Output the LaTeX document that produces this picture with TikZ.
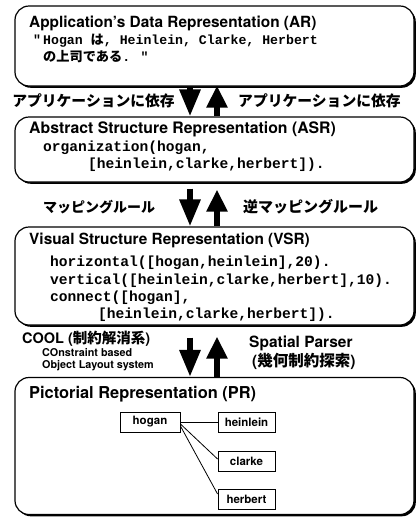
\documentclass[tikz,border=0pt]{standalone}
\usepackage{fontspec}
\setmainfont{TeX Gyre Heros}
\newfontfamily\jp{Noto Sans CJK JP}
\newfontfamily\cmono{Liberation Mono}
\usetikzlibrary{arrows.meta,shadows}
\begin{document}
\begin{tikzpicture}[x=1pt,y=-1pt,
  bigbox/.style={draw, line width=1.2pt, rounded corners=14pt, fill=white,
    minimum width=399pt, inner sep=0pt,
    drop shadow={shadow xshift=1.8pt, shadow yshift=-1.8pt, fill=black, opacity=1}},
  ttl/.style={anchor=west, inner sep=0pt, font=\fontsize{15.4}{17}\selectfont\bfseries},
  code/.style={anchor=west, inner sep=0pt, font=\cmono\bfseries\fontsize{#1}{15}\selectfont},
  jlab/.style={inner sep=0pt, font=\jp\bfseries\fontsize{#1}{15}\selectfont},
  smallbox/.style={draw, line width=0.9pt, fill=white, minimum width=#1, minimum height=20pt,
    inner sep=0pt, font=\fontsize{11.5}{12}\selectfont\bfseries,
    drop shadow={shadow xshift=0.8pt, shadow yshift=-0.8pt, fill=black, opacity=1}},
  fatdown/.style={line width=6pt, -{Triangle[length=27pt,width=20pt]}},
  fatup/.style={line width=6pt, -{Triangle[length=22pt,width=20pt]}},
  link/.style={line width=0.8pt}
]
\useasboundingbox (0,0) rectangle (420,520);

% boxes
\node[bigbox, minimum height=80pt] (ar) at (214.5,46) {};
\node[bigbox, minimum height=65pt] (asr) at (214.5,149.5) {};
\node[bigbox, minimum height=98pt] (vsr) at (214.5,276) {};
\node[bigbox, minimum height=137pt] (pr) at (214.5,446) {};

% AR texts
\node[ttl] (artitle) at (29,23) {Application's Data Representation (AR)};
\node[code=13.2] (ar1) at (43,41) {\llap{"\,}Hogan {\jp\bfseries は}, Heinlein, Clarke, Herbert};
\node[code=13.2] (ar2) at (43,57) {{\jp\bfseries の上司である}. "};

% ASR texts
\node[ttl, font=\fontsize{15.8}{17}\selectfont\bfseries] (asrtitle) at (29,129) {Abstract Structure Representation (ASR)};
\node[code=14.6] (asr1) at (43,147.5) {organization(hogan,};
\node[code=14.6] (asr2) at (88,165) {[heinlein,clarke,herbert]).};

% VSR texts
\node[ttl] (vsrtitle) at (29,240) {Visual Structure Representation (VSR)};
\node[code=14.6] (vsr1) at (50,263) {horizontal([hogan,heinlein],20).};
\node[code=14.6] (vsr2) at (50,280.5) {vertical([heinlein,clarke,herbert],10).};
\node[code=14.6] (vsr3) at (50,297.5) {connect([hogan],};
\node[code=14.6] (vsr4) at (98,314.5) {[heinlein,clarke,herbert]).};

% PR
\node[ttl, font=\fontsize{16.4}{18}\selectfont\bfseries] (prtitle) at (29,394) {Pictorial Representation (PR)};
\node[smallbox=60pt] (hogan) at (150,422) {hogan};
\node[smallbox=57pt] (heinlein) at (246.5,422) {heinlein};
\node[smallbox=57pt] (clarke) at (246.5,461) {clarke};
\node[smallbox=57pt] (herbert) at (246.5,499) {herbert};
\draw[link] (hogan.east) -- (heinlein.west);
\draw[link] ([yshift=-2pt]hogan.east) -- ([yshift=2pt]clarke.west);
\draw[link] ([yshift=-4pt]hogan.east) -- ([yshift=5pt]herbert.west);

% arrows AR <-> ASR
\draw[fatdown] ([xshift=-24.5pt]ar.south) -- ([xshift=-24.5pt]asr.north);
\draw[fatup] ([xshift=2.5pt]asr.north) -- ([xshift=2.5pt,yshift=1pt]ar.south);
\node[jlab=14.8, anchor=east] (l1) at (175,101) {アプリケーションに依存};
\node[jlab=14.8, anchor=west] (r1) at (238,101) {アプリケーションに依存};

% arrows ASR <-> VSR
\draw[fatdown] ([xshift=-24.5pt,yshift=-6pt]asr.south) -- ([xshift=-24.5pt]vsr.north);
\draw[fatup] ([xshift=2.5pt]vsr.north) -- ([xshift=2.5pt,yshift=-7pt]asr.south);
\node[jlab=14, anchor=west] (l2) at (43,207) {マッピングルール};
\node[jlab=15, anchor=west] (r2) at (243,207) {逆マッピングルール};

% arrows VSR <-> PR
\draw[fatdown] ([xshift=-24.5pt,yshift=-12pt]vsr.south) -- ([xshift=-24.5pt]pr.north);
\draw[fatup] ([xshift=2.5pt]pr.north) -- ([xshift=2.5pt,yshift=-11pt]vsr.south);
\node[anchor=west, inner sep=0pt, font=\fontsize{14.5}{16}\selectfont\bfseries] (cool) at (22,339)
  {COOL ({\jp\bfseries 制約解消系})};
\node[anchor=west, inner sep=0pt, font=\fontsize{10.8}{12}\selectfont\bfseries] (cool2) at (42,353) {COnstraint based};
\node[anchor=west, inner sep=0pt, font=\fontsize{10.8}{12}\selectfont\bfseries] (cool3) at (42,366) {Object Layout system};
\node[anchor=west, inner sep=0pt, font=\fontsize{15.5}{17}\selectfont\bfseries] (sp) at (249,343) {Spatial Parser};
\node[anchor=west, inner sep=0pt, font=\fontsize{15.5}{17}\selectfont\bfseries] (sp2) at (252,361) {({\jp\bfseries 幾何制約探索})};
\end{tikzpicture}
\end{document}
